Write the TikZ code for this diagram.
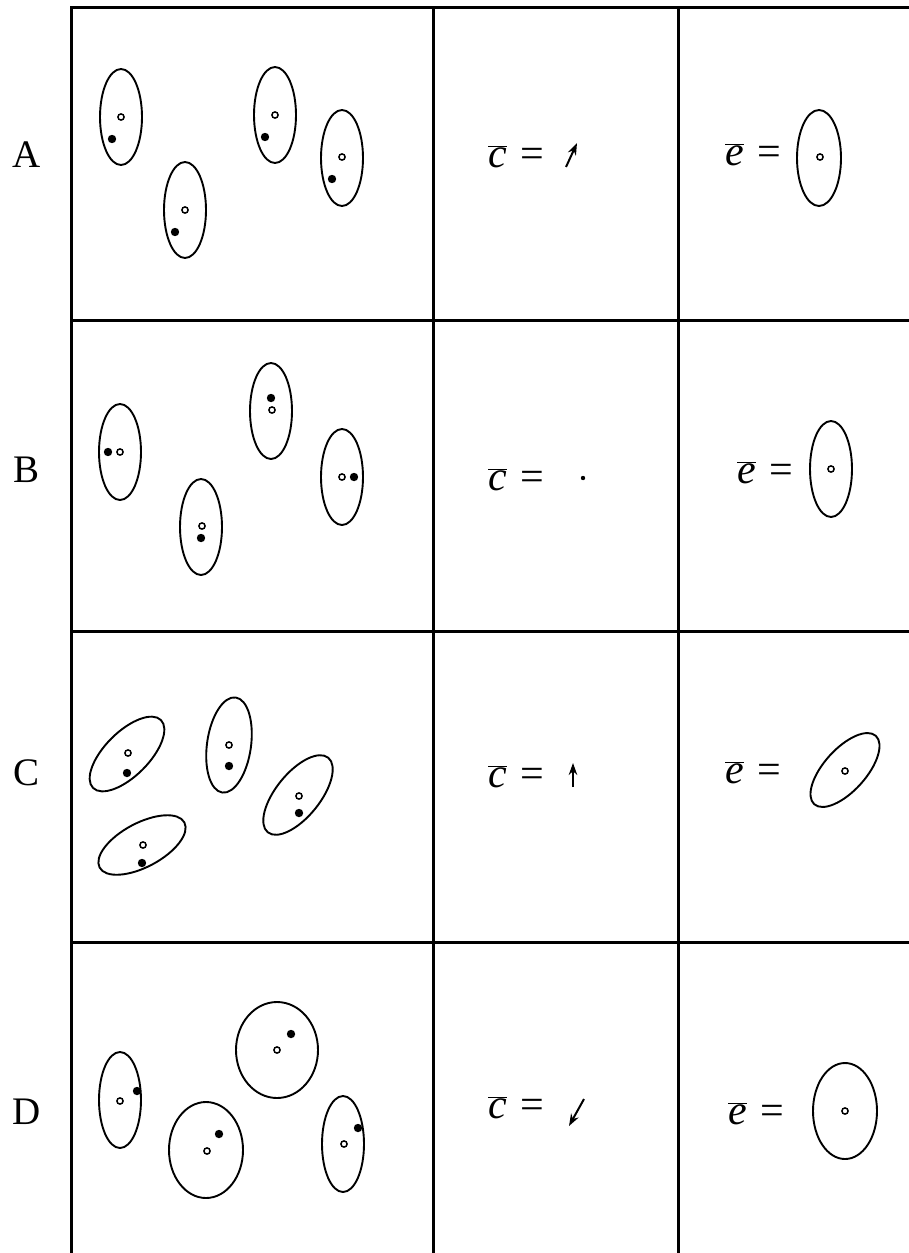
\documentclass[tikz,border=0pt]{standalone}
\usepackage{fontspec}
\setmainfont{Liberation Serif}
\usetikzlibrary{arrows.meta}
\newcommand\oDot[1]{\draw[odot] #1 circle[radius=3.1pt];}
\newcommand\fDot[1]{\fill #1 circle[radius=4.2pt];}
\newcommand\cbar{$\overline{\hbox{\itshape c}}$\,\,=}
\newcommand\ebar{$\overline{\hbox{\itshape e}}$\,\,=}
\begin{document}
\begin{tikzpicture}[x=1pt,y=-1pt,
 grid/.style={line width=3pt},
 ell/.style={line width=1.9pt},
 odot/.style={line width=1.5pt, fill=white},
 rowlbl/.style={font=\fontsize{39}{44}\selectfont, inner sep=0pt},
 eqlbl/.style={font=\fontsize{42}{48}\selectfont, inner sep=0pt, anchor=base west},
 vec/.style={line width=2pt, -{Stealth[length=12pt,width=8.5pt]}}]
\useasboundingbox (0,0) rectangle (909,1253);
% grid
\draw[grid] (71,1253) -- (71,7) -- (909,7);
\draw[grid] (433,7) -- (433,1253);
\draw[grid] (678,7) -- (678,1253);
\draw[grid] (71,320) -- (909,320);
\draw[grid] (71,631) -- (909,631);
\draw[grid] (71,942) -- (909,942);
% row labels
\node[rowlbl] (lA) at (27,155) {A};
\node[rowlbl] (lB) at (27,470) {B};
\node[rowlbl] (lC) at (27,773) {C};
\node[rowlbl] (lD) at (27,1112) {D};
% ---------- Row A
\draw[ell] (121,117) ellipse [x radius=21pt, y radius=48pt];
\oDot{(121,117)} \fDot{(112,139)}
\draw[ell] (185,210) ellipse [x radius=21pt, y radius=48pt];
\oDot{(185,210)} \fDot{(175,232)}
\draw[ell] (275,115) ellipse [x radius=21pt, y radius=48pt];
\oDot{(275,115)} \fDot{(265,137)}
\draw[ell] (342,158) ellipse [x radius=21pt, y radius=48pt];
\oDot{(342,157)} \fDot{(332,179)}
\node[eqlbl] (cA) at (488,167) {\cbar};
\draw[vec] (566,167) -- (577,143);
\node[eqlbl] (eA) at (725,165) {\ebar};
\draw[ell] (819,158) ellipse [x radius=22pt, y radius=48pt];
\oDot{(820,157)}
% ---------- Row B
\draw[ell] (120,452) ellipse [x radius=21pt, y radius=48pt];
\fDot{(108,452)} \oDot{(120,452)}
\draw[ell] (201,527) ellipse [x radius=21pt, y radius=48pt];
\oDot{(202,526)} \fDot{(201,538)}
\draw[ell] (271,411) ellipse [x radius=21pt, y radius=48pt];
\fDot{(271,398)} \oDot{(272,410)}
\draw[ell] (342,477) ellipse [x radius=21pt, y radius=48pt];
\oDot{(342,477)} \fDot{(354,477)}
\node[eqlbl] (cB) at (488,490) {\cbar};
\fill (583,478) circle[radius=2.2pt];
\node[eqlbl] (eB) at (737,483) {\ebar};
\draw[ell] (831,469) ellipse [x radius=21pt, y radius=48pt];
\oDot{(831,469)}
% ---------- Row C
\draw[ell, rotate around={45:(127,754)}] (127,754) ellipse [x radius=48pt, y radius=22pt];
\oDot{(128,753)} \fDot{(127,773)}
\draw[ell, rotate around={-8:(229,745)}] (229,745) ellipse [x radius=22pt, y radius=48pt];
\oDot{(229,745)} \fDot{(229,766)}
\draw[ell, rotate around={51:(298,795)}] (298,795) ellipse [x radius=48pt, y radius=22pt];
\oDot{(299,796)} \fDot{(299,813)}
\draw[ell, rotate around={28:(142,845)}] (142,845) ellipse [x radius=48pt, y radius=22pt];
\oDot{(143,845)} \fDot{(142,863)}
\node[eqlbl] (cC) at (488,787) {\cbar};
\draw[vec] (573,787) -- (573,763);
\node[eqlbl] (eC) at (725,783) {\ebar};
\draw[ell, rotate around={48:(845,770)}] (845,770) ellipse [x radius=46pt, y radius=21pt];
\oDot{(845,771)}
% ---------- Row D
\draw[ell] (120,1100) ellipse [x radius=21pt, y radius=48pt];
\oDot{(120,1101)} \fDot{(137,1091)}
\draw[ell] (277,1050) ellipse [x radius=41pt, y radius=48pt];
\oDot{(277,1050)} \fDot{(291,1034)}
\draw[ell] (206,1150) ellipse [x radius=37pt, y radius=48pt];
\oDot{(207,1151)} \fDot{(219,1134)}
\draw[ell] (343,1144) ellipse [x radius=21pt, y radius=48pt];
\oDot{(344,1144)} \fDot{(358,1128)}
\node[eqlbl] (cD) at (488,1118) {\cbar};
\draw[vec] (584,1099) -- (569,1126);
\node[eqlbl] (eD) at (728,1124) {\ebar};
\draw[ell] (845,1111) ellipse [x radius=32pt, y radius=48pt];
\oDot{(845,1111)}
\end{tikzpicture}
\end{document}
